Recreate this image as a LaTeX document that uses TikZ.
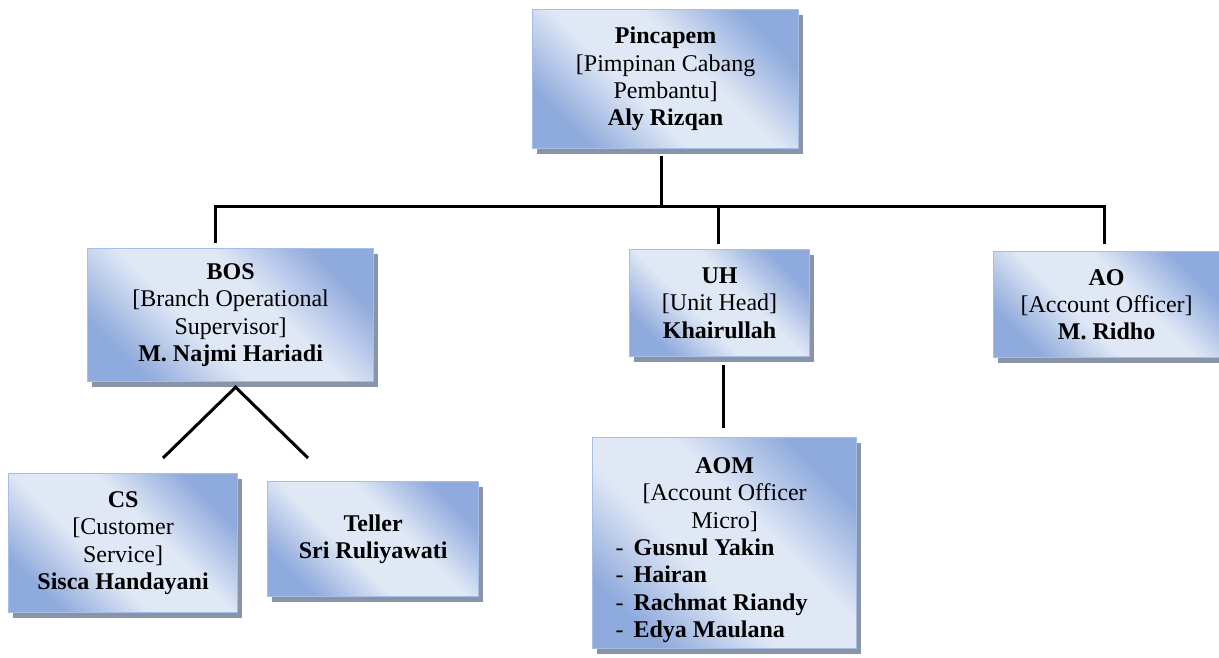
\documentclass[tikz,border=0pt]{standalone}
\usepackage{fontspec}
\setmainfont{Liberation Serif}
\usepackage{xcolor}
\definecolor{blue-400}{RGB}{143,170,220}
\definecolor{blue-300}{RGB}{165,190,230}
\definecolor{blue-100}{RGB}{224,232,246}
\definecolor{gray-500}{RGB}{138,148,168}
\usepackage{tikz}
\usetikzlibrary{shadows}

% diagonal fill of the boxes: dark corners, light middle
\pgfdeclareverticalshading{orgfill}{100bp}{color(0bp)=(blue-400); color(25bp)=(blue-400);
    color(42bp)=(blue-100); color(58bp)=(blue-100); color(75bp)=(blue-400); color(100bp)=(blue-400)}

% one staff member in the AOM list
\newcommand{\staffline}[1]{\makebox[218pt][l]{-\hspace{10pt}\textbf{#1}}}

\begin{document}
\begin{tikzpicture}[
    x=1pt, y=-1pt,
    every node/.style={inner sep=0pt},
    orgbox/.style={
        anchor=north west,
        draw=blue-300,
        line width=1.2pt,
        shading=orgfill,
        shading angle=-45,
        drop shadow={shadow xshift=4pt, shadow yshift=-5pt, fill=gray-500, opacity=1},
        align=center,
        font=\fontsize{24}{27.3}\selectfont
    },
    link/.style={line width=3pt, black}
]

\useasboundingbox (0,0) rectangle (1219,658);

% Head of branch
\node[orgbox, minimum width=266pt, minimum height=139pt] (pinca) at (532,9)
    {\textbf{Pincapem}\\{[}Pimpinan Cabang\\Pembantu]\\\textbf{Aly Rizqan}};

% Second level
\node[orgbox, minimum width=286pt, minimum height=133pt] (bos) at (87,248)
    {\textbf{BOS}\\{[}Branch Operational\\Supervisor]\\\textbf{M. Najmi Hariadi}};
\node[orgbox, minimum width=180pt, minimum height=107pt] (uh) at (629,249)
    {\textbf{UH}\\{[}Unit Head]\\\textbf{Khairullah}};
\node[orgbox, minimum width=226pt, minimum height=106pt] (ao) at (993,251)
    {\textbf{AO}\\{[}Account Officer]\\\textbf{M. Ridho}};

% Third level
\node[orgbox, minimum width=229pt, minimum height=139pt] (cs) at (8,473)
    {\textbf{CS}\\{[}Customer\\Service]\\\textbf{Sisca Handayani}};
\node[orgbox, minimum width=211pt, minimum height=115pt] (teller) at (267,481)
    {\textbf{Teller}\\\textbf{Sri Ruliyawati}};
\node[orgbox, minimum width=264pt, minimum height=211pt] (aom) at (592,437)
    {\rule{0pt}{30pt}\textbf{AOM}\\{[}Account Officer\\Micro]\\\staffline{Gusnul Yakin}\\\staffline{Hairan}\\
     \staffline{Rachmat Riandy}\\\staffline{Edya Maulana}};

% Bar under the head
\coordinate (bar-l) at (215,207);
\coordinate (bar-r) at (1104,207);
\draw[link] ([xshift=-4pt, yshift=-7pt]pinca.south) -- ([xshift=-4pt]pinca.south |- bar-l);
\draw[link] ([yshift=5pt]bar-l |- bos.north) -- (bar-l) -- (bar-r) -- ([yshift=7pt]bar-r |- ao.north);
\draw[link] ([xshift=-1pt]uh.north |- bar-l) -- ([xshift=-1pt, yshift=5pt]uh.north);
\draw[link] ([xshift=4pt, yshift=-8pt]uh.south) -- ([xshift=-1pt, yshift=9pt]aom.north);

% Fork under BOS
\coordinate (cs-end) at (163,458);
\coordinate (teller-end) at (308,458);
\draw[link] (cs-end) -- ([xshift=5pt, yshift=-5pt]bos.south) -- (teller-end);

\end{tikzpicture}
\end{document}
